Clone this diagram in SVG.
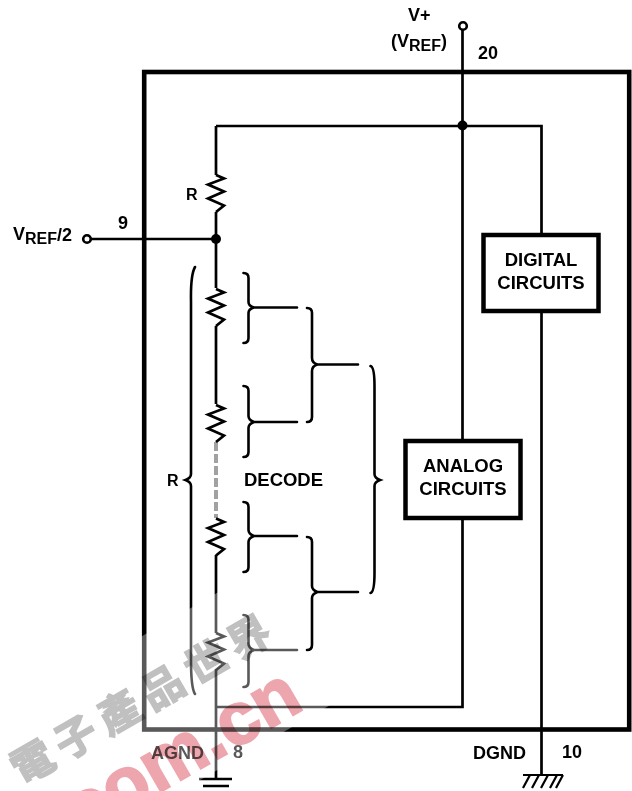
<svg xmlns="http://www.w3.org/2000/svg" width="632" height="791" viewBox="0 0 632 791">
<style>
.w{fill:none;stroke:#000;stroke-width:2.7}
.b{fill:none;stroke:#000;stroke-width:2.6;stroke-linecap:round}
.box{fill:#fff;stroke:#000;stroke-width:4.5}
.t{font-family:"Liberation Sans",Arial,sans-serif;font-weight:700;font-size:18px;fill:#000}
.c{font-size:18.500px;text-anchor:middle}
.sub{font-size:16px}
</style>
<defs>
<path id="res" d="M0 0l8 3.500-16 6 16 7-16 7 16 7-8 6.500" fill="none" stroke="#000" stroke-width="2.700" stroke-linejoin="miter"/>
</defs>
<rect width="632" height="791" fill="#fff"/>
<g id="frame"><rect x="144.200" y="72" width="485" height="657.500" fill="none" stroke="#000" stroke-width="4.600"/></g>
<g id="connectors">
<path class="w" d="M462.500 30V440M462.500 519V707H216M216 126H541.500V234M541.500 312V776M216 126V175M216 212V288M216 326V404M216 555V633M216 669V779M91 239H216"/>
<path d="M216 442V518" fill="none" stroke="#444" stroke-width="3" stroke-dasharray="9 3"/>
<path d="M216 442V518" fill="none" stroke="#fff" stroke-width="1"/>
<path class="b" d="M243.500 273q5 0 5 5V302q0 4 5.500 5.500q-5.500 1.500-5.500 5.500V338q0 5-5 5M254 307.500H297"/>
<path class="b" d="M243.500 386q5 0 5 5V416q0 4 5.500 6q-5.500 2-5.500 6V452q0 5-5 5M254 422H297"/>
<path class="b" d="M243.500 502q5 0 5 5V530q0 4 5.500 6q-5.500 2-5.500 6V567q0 5-5 5M254 536H297"/>
<path class="b" d="M243.500 615q5 0 5 5V644q0 4 5.500 6q-5.500 2-5.500 6V682q0 5-5 5M254 650H297"/>
<path class="b" d="M307 308q5 0 5 5V358q0 5 5.500 6.500q-5.500 1.500-5.500 6.500V417q0 5-5 5M317 364.500H358"/>
<path class="b" d="M307 537q5 0 5 5V586q0 4 5.500 6q-5.500 2-5.500 6V645q0 5-5 5M317 592H358"/>
<path class="b" d="M370.500 366q4 1 4 20V474q0 4 5.500 6q-5.500 2-5.500 6V573q0 19-4 20"/>
<path class="b" d="M195 267q-4.500 8-4 34V474q0 4-5.500 6q5.500 2 5.500 6V660q0 28 4 34"/>
</g>
<g id="pin-vplus"><circle cx="463" cy="26" r="3.800" fill="#fff" stroke="#000" stroke-width="2.600"/><text class="t" x="408" y="21">V+</text><text class="t" x="391" y="47">(V<tspan class="sub" dy="4">REF</tspan><tspan dy="-4">)</tspan></text><text class="t" x="478" y="59">20</text></g>
<g id="pin-vref2"><circle cx="87" cy="239" r="3.800" fill="#fff" stroke="#000" stroke-width="2.600"/><text class="t" x="13" y="240">V<tspan class="sub" dy="4">REF</tspan><tspan dy="-3">/2</tspan></text><text class="t" x="118" y="229">9</text></g>
<g id="node-top"><circle cx="462.500" cy="125.500" r="5"/></g>
<g id="node-mid"><circle cx="216" cy="239" r="5"/></g>
<g id="r1"><use href="#res" x="216" y="175"/><text class="t" x="186" y="200" style="font-size:16px">R</text></g>
<g id="r2"><use href="#res" x="216" y="289"/></g>
<g id="r3"><use href="#res" x="216" y="405"/></g>
<g id="r4"><use href="#res" x="216" y="518.500"/></g>
<g id="r5"><use href="#res" x="216" y="633"/></g>
<g id="label-r"><text class="t" x="167" y="486" style="font-size:16px">R</text></g>
<g id="label-decode"><text class="t" x="244" y="486" style="font-size:18.500px" textLength="79">DECODE</text></g>
<g id="analog"><rect class="box" x="405.500" y="441" width="115" height="77"/><text class="t c" x="463" y="472">ANALOG</text><text class="t c" x="463" y="495">CIRCUITS</text></g>
<g id="digital"><rect class="box" x="483.500" y="235" width="115" height="76"/><text class="t c" x="541" y="266">DIGITAL</text><text class="t c" x="541" y="289">CIRCUITS</text></g>
<g id="agnd"><path d="M199 779H232M203 786H229" fill="none" stroke="#000" stroke-width="2.400"/><text class="t" x="151" y="759">AGND</text><text class="t" x="233" y="758">8</text></g>
<g id="dgnd"><path d="M523 775H563M530 775l-7 13M539 775l-7 13M548 775l-7 13M557 775l-7 13M563 775l-7 13" fill="none" stroke="#000" stroke-width="2.200"/><text class="t" x="473" y="759">DGND</text><text class="t" x="562" y="758">10</text></g>
<g id="watermark">
<path d="M255 571L332 704 181 791H0V718Z" fill="#fff" fill-opacity=".35"/>
<text transform="translate(22 786) rotate(-30)" font-family="Noto Sans CJK TC,sans-serif" font-size="42" font-weight="700" letter-spacing="8" fill="#c0c0c0" stroke="#c0c0c0" stroke-width="1.500" style="mix-blend-mode:multiply">電子產品世界</text>
<text transform="translate(306 708) rotate(-30)" text-anchor="end" font-family="Liberation Sans,sans-serif" font-size="74" font-weight="700" fill="#eda6ad" stroke="#eda6ad" stroke-width="2" style="mix-blend-mode:multiply">com.cn</text>
</g>
</svg>
